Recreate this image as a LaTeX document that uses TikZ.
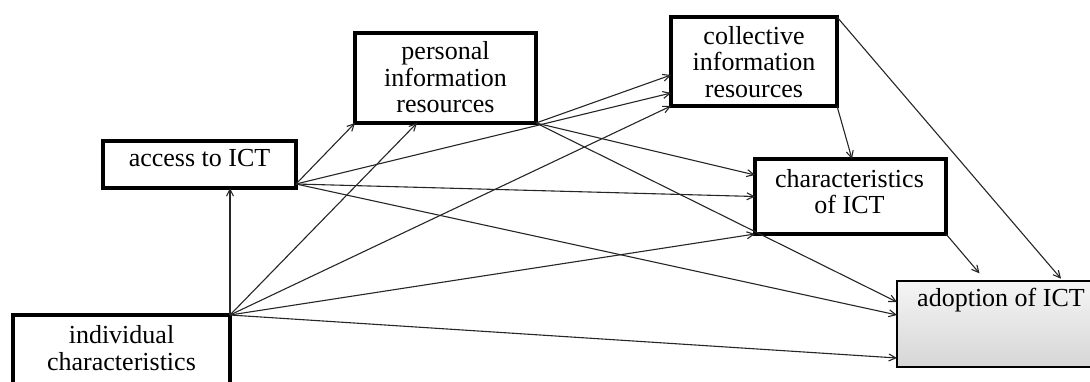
\documentclass[tikz,border=0pt]{standalone}
\usepackage{fontspec}
\setmainfont{Liberation Serif}
\usetikzlibrary{arrows.meta}
\begin{document}
\begin{tikzpicture}[x=1pt,y=-1pt,
  box/.style={draw=black, line width=3.2pt, fill=white, inner sep=0pt, outer sep=0pt},
  gbox/.style={draw=black, line width=1.3pt, top color=gray!8, bottom color=gray!32, inner sep=0pt, outer sep=0pt},
  txt/.style={font=\fontsize{26}{26.5}\selectfont, align=center, inner sep=0pt, text=black},
  arr/.style={-{Straight Barb[length=7pt,width=7pt]}, line width=1.1pt, draw=black!85}]
\useasboundingbox (0,0) rectangle (1090,381);
\clip (0,0) rectangle (1090,381);
% boxes
\node[box, minimum width=217pt, minimum height=80pt] (ind) at (121.5,355) {};
\node[box, minimum width=193pt, minimum height=47pt] (acc) at (199.5,164.5) {};
\node[box, minimum width=181pt, minimum height=90pt] (pers) at (445.5,78) {};
\node[box, minimum width=166pt, minimum height=89pt] (coll) at (754,61.5) {};
\node[box, minimum width=191pt, minimum height=75pt] (char) at (850.5,196.5) {};
\node[gbox, minimum width=203pt, minimum height=86pt] (adop) at (998.5,324) {};
% texts
\node[txt] (tind) at (121.5,348) {individual\\characteristics};
\node[txt, anchor=base] (tacc) at (199.5,166) {access to ICT};
\node[txt] (tpers) at (445.5,77.5) {personal\\information\\resources};
\node[txt] (tcoll) at (754,62) {collective\\information\\resources};
\node[txt] (tchar) at (849.5,191.5) {characteristics\\of ICT};
\node[txt, anchor=base] (tadop) at (1001,306) {adoption of ICT};
% arrows from individual characteristics
\draw[arr] (ind.north east) -- (ind.north east |- acc.south);
\draw[arr] (ind.north east) -- ([xshift=62pt]pers.south west);
\draw[arr] (ind.north east) -- (coll.south west);
\draw[arr] (ind.north east) -- (char.south west);
\draw[arr] (ind.north east) -- ([yshift=-77pt]adop.north west);
% arrows from access to ICT
\draw[arr] ([yshift=4pt]acc.south east) -- (pers.south west);
\draw[arr] ([yshift=4pt]acc.south east) -- ([yshift=-76pt]coll.north west);
\draw[arr] ([yshift=4pt]acc.south east) -- (char.west);
\draw[arr] ([yshift=4pt]acc.south east) -- ([yshift=-34pt]adop.north west);
% arrows from personal information resources
\draw[arr] (pers.south east) -- ([yshift=-58pt]coll.north west);
\draw[arr] (pers.south east) -- ([yshift=-16pt]char.north west);
\draw[arr] (pers.south east) -- ([yshift=-21pt]adop.north west);
% arrows from collective information resources
\draw[arr] (coll.south east) -- ([xshift=97pt]char.north west);
\draw[arr, shorten >=3pt] (coll.north east) -- ([xshift=166pt]adop.north west);
% arrow from characteristics of ICT
\draw[arr, shorten >=10pt] (char.south east) -- ([xshift=89pt]adop.north west);
\end{tikzpicture}
\end{document}
